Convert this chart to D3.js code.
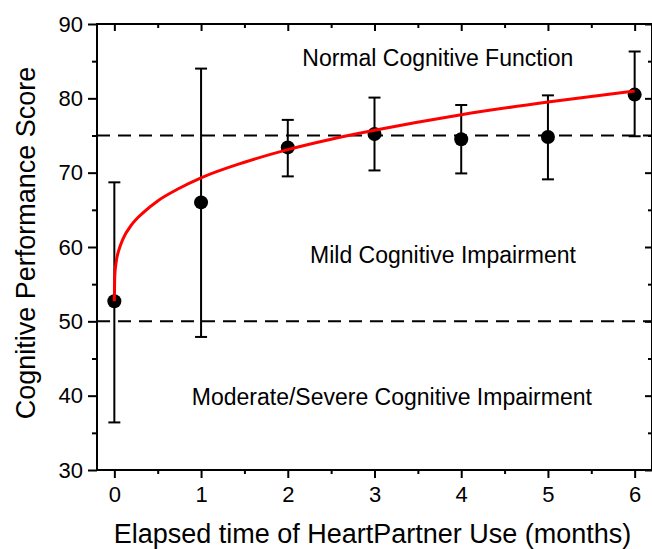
<!DOCTYPE html>
<html lang="en">
<head>
    <meta charset="UTF-8">
    <script src="https://d3js.org/d3.v7.min.js"></script>
    <style>
        body { margin: 0; background: #fff; }
        text { font-family: "Liberation Sans", Arial, sans-serif; fill: #000; }
    </style>
</head>
<body>
<div id="chart"></div>
<script>
    // values
    var months = [0, 1, 2, 3, 4, 5, 6];
    var meanScore = [52.7, 66.0, 73.4, 75.2, 74.5, 74.8, 80.5];
    var upperScore = [68.7, 84.0, 77.1, 80.1, 79.1, 80.4, 86.3];
    var lowerScore = [36.4, 47.9, 69.5, 70.3, 69.9, 69.1, 74.9];

    // fitted curve, sampled from the red line
    var fitX = [0, 0.005, 0.02, 0.05, 0.1, 0.2, 0.35, 0.5, 0.75, 1, 1.5, 2, 2.5, 3, 4, 5, 6];
    var fitY = [52.7, 56.1, 57.9, 59.5, 61.1, 63.0, 64.8, 66.2, 67.9, 69.3, 71.4, 73.1, 74.5, 75.7, 77.8, 79.5, 81.0];

    var thresholds = [50, 75];
    var regionLabels = ["Normal Cognitive Function", "Mild Cognitive Impairment", "Moderate/Severe Cognitive Impairment"];
    var regionX = [3.73, 3.79, 3.2];
    var regionY = [84.35, 57.8, 38.7];

    var xTicks = [0, 1, 2, 3, 4, 5, 6];
    var xMinor = [0.5, 1.5, 2.5, 3.5, 4.5, 5.5];
    var yTicks = [30, 40, 50, 60, 70, 80, 90];
    var yMinor = [35, 45, 55, 65, 75, 85];

    var W = 652, H = 549;
    var pLeft = 97, pRight = 652, pTop = 24, pBottom = 470;

    var x = d3.scaleLinear().domain([-0.2, 6.2]).range([pLeft, pRight]);
    var y = d3.scaleLinear().domain([30, 90]).range([pBottom, pTop]);

    var svg = d3.select("#chart")
        .append("svg")
            .attr("width", W)
            .attr("height", H);

    // threshold lines
    svg.selectAll(".thr")
        .data(thresholds)
        .enter().append("line")
            .attr("x1", pLeft).attr("x2", pRight)
            .attr("y1", function(d) { return y(d); })
            .attr("y2", function(d) { return y(d); })
            .attr("stroke", "#000")
            .attr("stroke-width", 2)
            .attr("stroke-dasharray", "13,8");

    // region labels
    svg.selectAll(".region")
        .data(regionLabels)
        .enter().append("text")
            .attr("x", function(d, i) { return x(regionX[i]); })
            .attr("y", function(d, i) { return y(regionY[i]); })
            .attr("text-anchor", "middle")
            .style("font-size", "23px")
            .text(function(d) { return d; });

    // error bars
    var bars = svg.append("g");
    months.forEach(function(m, i) {
        var cx = x(m);
        bars.append("line")
            .attr("x1", cx).attr("x2", cx)
            .attr("y1", y(lowerScore[i])).attr("y2", y(upperScore[i]))
            .attr("stroke", "#000").attr("stroke-width", 2);
        [lowerScore[i], upperScore[i]].forEach(function(v) {
            bars.append("line")
                .attr("x1", cx - 6).attr("x2", cx + 6)
                .attr("y1", y(v)).attr("y2", y(v))
                .attr("stroke", "#000").attr("stroke-width", 2);
        });
    });

    // points
    svg.selectAll(".pt")
        .data(months)
        .enter().append("circle")
            .attr("cx", function(d) { return x(d); })
            .attr("cy", function(d, i) { return y(meanScore[i]); })
            .attr("r", 7)
            .attr("fill", "#000");

    // fit line
    var fitLine = d3.line()
        .x(function(d) { return x(d); })
        .y(function(d, i) { return y(fitY[i]); })
        .curve(d3.curveMonotoneX);

    svg.append("path")
        .datum(fitX)
        .attr("d", fitLine)
        .attr("fill", "none")
        .attr("stroke", "#ff0000")
        .attr("stroke-width", 3);

    // axes
    function styleAxis(g) {
        g.attr("font-size", null).attr("font-family", null);
        g.select(".domain").remove();
        g.selectAll(".tick line").attr("stroke", "#000").attr("stroke-width", 2);
        g.selectAll(".tick text").style("font-size", "22px").attr("fill", "#000");
    }

    svg.append("g")
        .attr("transform", "translate(0," + pBottom + ")")
        .call(d3.axisBottom(x).tickValues(xTicks).tickSize(8).tickPadding(8).tickFormat(d3.format("d")))
        .call(styleAxis);
    svg.append("g")
        .attr("transform", "translate(0," + pBottom + ")")
        .call(d3.axisBottom(x).tickValues(xMinor).tickSize(4).tickFormat(""))
        .call(styleAxis);

    svg.append("g")
        .attr("transform", "translate(0," + pTop + ")")
        .call(d3.axisBottom(x).tickValues(xTicks).tickSize(7).tickFormat(""))
        .call(styleAxis);
    svg.append("g")
        .attr("transform", "translate(0," + pTop + ")")
        .call(d3.axisBottom(x).tickValues(xMinor).tickSize(4).tickFormat(""))
        .call(styleAxis);

    svg.append("g")
        .attr("transform", "translate(" + pLeft + ",0)")
        .call(d3.axisLeft(y).tickValues(yTicks).tickSize(9).tickPadding(5).tickFormat(d3.format("d")))
        .call(styleAxis);
    svg.append("g")
        .attr("transform", "translate(" + pLeft + ",0)")
        .call(d3.axisLeft(y).tickValues(yMinor).tickSize(5).tickFormat(""))
        .call(styleAxis);

    svg.append("g")
        .attr("transform", "translate(" + pRight + ",0)")
        .call(d3.axisLeft(y).tickValues(yTicks).tickSize(7).tickFormat(""))
        .call(styleAxis);
    svg.append("g")
        .attr("transform", "translate(" + pRight + ",0)")
        .call(d3.axisLeft(y).tickValues(yMinor).tickSize(4).tickFormat(""))
        .call(styleAxis);

    // frame
    svg.append("rect")
        .attr("x", pLeft).attr("y", pTop)
        .attr("width", pRight - pLeft).attr("height", pBottom - pTop)
        .attr("fill", "none")
        .attr("stroke", "#000")
        .attr("stroke-width", 2);

    // axis titles
    svg.append("text")
        .attr("x", (pLeft + pRight) / 2 - 2)
        .attr("y", 543)
        .attr("text-anchor", "middle")
        .style("font-size", "27px")
        .text("Elapsed time of HeartPartner Use (months)");

    svg.append("text")
        .attr("transform", "translate(35," + ((pTop + pBottom) / 2 - 4) + ") rotate(-90)")
        .attr("text-anchor", "middle")
        .style("font-size", "27px")
        .text("Cognitive Performance Score");
</script>
</body>
</html>
